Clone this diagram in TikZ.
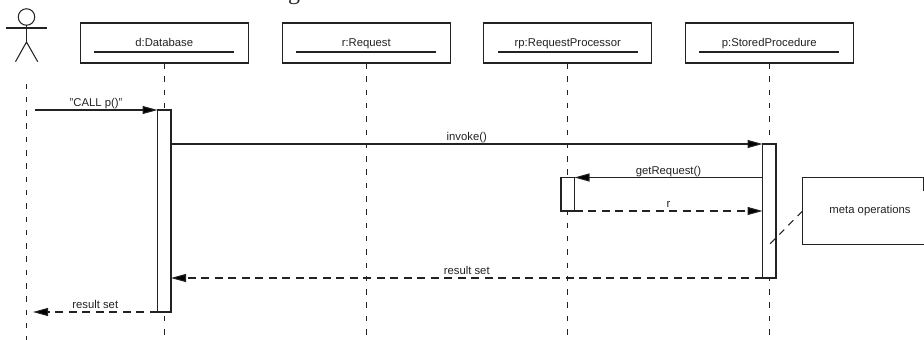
\documentclass[tikz,border=0pt]{standalone}
\usepackage{fontspec}
\setmainfont{Liberation Sans}
\newfontfamily\titlefont{Liberation Serif}
\usetikzlibrary{arrows.meta}
\definecolor{ink}{HTML}{222222}
\tikzset{
  x=1pt,y=-1pt,
  every node/.style={font=\fontsize{11.3}{13}\selectfont,text=ink,inner sep=0pt,outer sep=0pt},
  line/.style={draw=ink,line width=1.05pt},
  objbox/.style={line,minimum width=168pt,minimum height=40pt,fill=white},
  life/.style={line,dash pattern=on 5.5pt off 7.8pt},
  bar/.style={line,fill=white,minimum width=13.5pt},
  msg/.style={line,-{Triangle[length=15pt,width=8pt,fill=black]}},
  reply/.style={msg,dash pattern=on 8pt off 5.5pt},
  label/.style={anchor=base},
}
\begin{document}
\begin{tikzpicture}
\useasboundingbox (0,0) rectangle (924,340);
% clipped title fragment
\node[anchor=base,font=\titlefont\fontsize{24}{26}\selectfont] (title) at (294,0) {g};
% object boxes
\node[objbox] (d) at (164.25,43) {};
\node[objbox] (r) at (366.25,43) {};
\node[objbox] (rp) at (567.75,43) {};
\node[objbox] (p) at (769.25,43) {};
\foreach \n/\t in {d/d:Database,r/r:Request,rp/rp:RequestProcessor,p/p:StoredProcedure}{
  \node[anchor=base] (\n t) at ([yshift=-3pt]\n.center) {\t};
  \draw[line] ([xshift=14pt,yshift=-9pt]\n.west) -- ([xshift=-14pt,yshift=-9pt]\n.east);
}
% actor
\node[line,circle,minimum size=16.5pt] (head) at (26.5,17) {};
\coordinate (neck) at (26.5,42);
\coordinate (armL) at (6,28);
\coordinate (armR) at (46.5,28);
\coordinate (legL) at (15.5,61.7);
\coordinate (legR) at (37.7,61.7);
\draw[line] (head.south) -- (neck);
\draw[line] (armL) -- (armR);
\draw[line] (legL) -- (neck) -- (legR);
% lifelines
\coordinate (a0) at (26.3,83.5);
\coordinate (a1) at (26.3,340);
\draw[life] (a0) -- (a1);
\foreach \n in {d,r,rp,p}{
  \coordinate (\n end) at (\n.south |- a1);
  \draw[life] (\n.south) -- (\n end);
}
% activations
\node[bar,minimum height=202pt] (dbar) at (164.25,211) {};
\node[bar,minimum height=134pt] (pbar) at (769.25,211) {};
\node[bar,minimum height=33.5pt] (rpbar) at (567.75,194.25) {};
% note (runs past the right edge, as in the reference)
\node[minimum width=135pt,minimum height=67pt] (note) at (870,211) {meta operations};
\coordinate (noteFold) at (923.5,177.5);
\coordinate (noteTick) at (923.5,191);
\draw[line] (note.south east) -- (note.south west) -- (note.north west) -- (noteFold) -- (noteTick);
\coordinate (noteEnd) at (769,245);
\draw[line,dash pattern=on 7pt off 6pt] (note.west) -- (noteEnd);
% messages
\coordinate (caller) at (34.5,110);
\coordinate (callerEnd) at (33,312);
\draw[msg] (caller) -- (caller -| dbar.west) node[midway,label,yshift=3.5pt] (m1) {"CALL p()"};
\draw[msg] (dbar.east |- pbar.north) -- (pbar.north west) node[midway,label,yshift=3.5pt] (m2) {invoke()};
\draw[msg] (pbar.west |- rpbar.north) -- (rpbar.north east) node[midway,label,yshift=3.5pt] (m3) {getRequest()};
\draw[reply] (rpbar.south east) -- (pbar.west |- rpbar.south) node[midway,label,yshift=3.5pt] (m4) {r};
\draw[reply] (pbar.south west) -- (dbar.east |- pbar.south) node[midway,label,yshift=3.5pt] (m5) {result set};
\draw[reply] (dbar.south west) -- (callerEnd) node[midway,label,yshift=3.5pt] (m6) {result set};
\end{tikzpicture}
\end{document}
